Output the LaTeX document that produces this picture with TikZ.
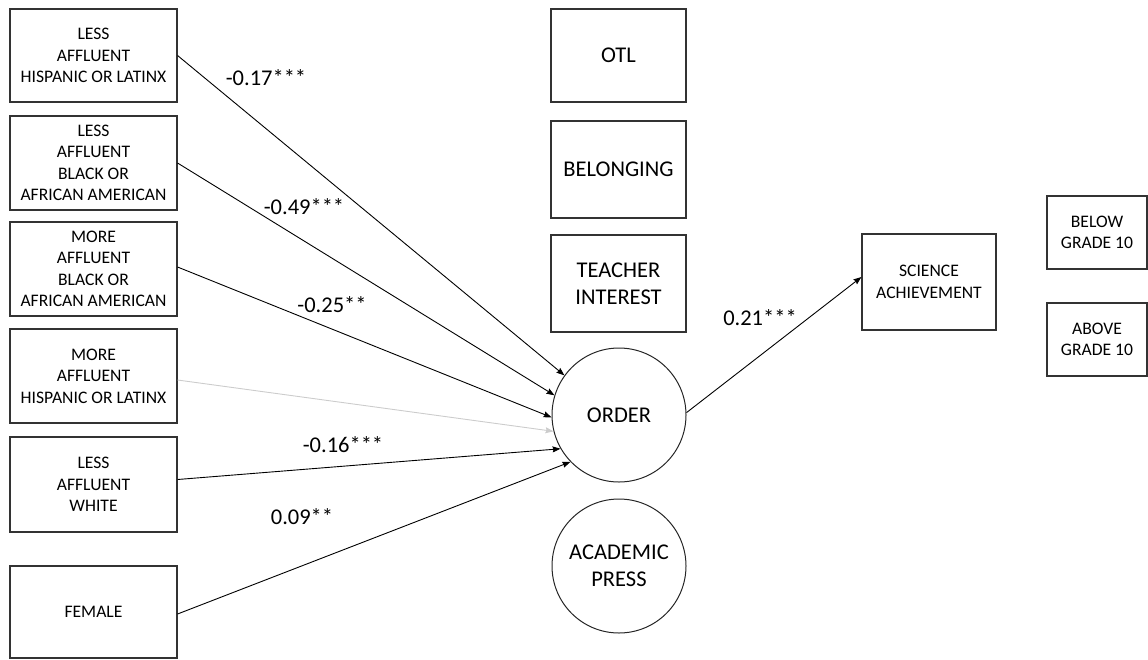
\documentclass[tikz,border=0pt]{standalone}
\usepackage{fontspec}
\setmainfont{Carlito}
\usetikzlibrary{arrows.meta}
\begin{document}
\begin{tikzpicture}[x=1pt,y=-1pt,
  box/.style={draw=black!80,line width=1.1pt,rectangle,align=center,inner sep=0pt},
  lbox/.style={box,minimum width=167pt,minimum height=94pt,font=\fontsize{17.6}{21.5}\selectfont},
  mbox/.style={box,minimum width=135pt,minimum height=97pt,font=\fontsize{22.5}{27}\selectfont},
  rbox/.style={box,minimum width=100pt,minimum height=73pt,font=\fontsize{17.6}{21.5}\selectfont},
  latent/.style={draw=black!85,line width=1pt,circle,minimum size=134pt,align=center,inner sep=0pt,font=\fontsize{22.5}{27}\selectfont},
  arr/.style={-{Stealth[length=8pt,width=6pt,inset=1pt]},line width=0.9pt},
  coef/.style={font=\fontsize{22.5}{26}\selectfont,inner sep=0pt}
]
\useasboundingbox (0,0) rectangle (1148,659);

% left boxes
\node[lbox,minimum height=93pt] (l1) at (93.5,55.5) {LESS\\AFFLUENT\\HISPANIC OR LATINX};
\node[lbox] (l2) at (93.5,163) {LESS\\AFFLUENT\\BLACK OR\\AFRICAN AMERICAN};
\node[lbox] (l3) at (93.5,269) {MORE\\AFFLUENT\\BLACK OR\\AFRICAN AMERICAN};
\node[lbox] (l4) at (93.5,376) {MORE\\AFFLUENT\\HISPANIC OR LATINX};
\node[lbox,minimum height=95pt] (l5) at (93.5,484.5) {LESS\\AFFLUENT\\WHITE};
\node[lbox,minimum height=92pt] (l6) at (93.5,612) {FEMALE};

% middle boxes
\node[mbox,minimum height=93pt] (otl) at (618.5,55.5) {OTL};
\node[mbox] (bel) at (618.5,169.5) {BELONGING};
\node[mbox] (ti) at (618.5,283.5) {TEACHER\\INTEREST};

% latent
\node[latent] (order) at (619,415) {ORDER};
\node[latent] (ap) at (619,566) {ACADEMIC\\PRESS};

% right
\node[box,minimum width=134pt,minimum height=96pt,font=\fontsize{17.6}{21.5}\selectfont] (sci) at (929,282) {SCIENCE\\ACHIEVEMENT};
\node[rbox] (below) at (1097,232.5) {BELOW\\GRADE 10};
\node[rbox] (above) at (1097,339.5) {ABOVE\\GRADE 10};

% arrows
\draw[arr] (l1.east) -- (order.144);
\draw[arr] (l2.east) -- (order.163);
\draw[arr] ([yshift=2pt]l3.east) -- (order.182);
\draw[arr,draw=black!20] ([yshift=-4pt]l4.east) -- (order.194);
\draw[arr] ([yshift=5pt]l5.east) -- (order.210);
\draw[arr] ([yshift=-2pt]l6.east) -- (order.224);
\draw[arr] (order.2) -- ([yshift=5pt]sci.west);

% coefficients
\node[coef] (c1) at (266,78) {-0.17***};
\node[coef] (c2) at (304,207) {-0.49***};
\node[coef] (c3) at (332,305) {-0.25**};
\node[coef] (c5) at (343,445) {-0.16***};
\node[coef] (c6) at (302,517) {0.09**};
\node[coef] (c7) at (760,318) {0.21***};
\end{tikzpicture}
\end{document}
